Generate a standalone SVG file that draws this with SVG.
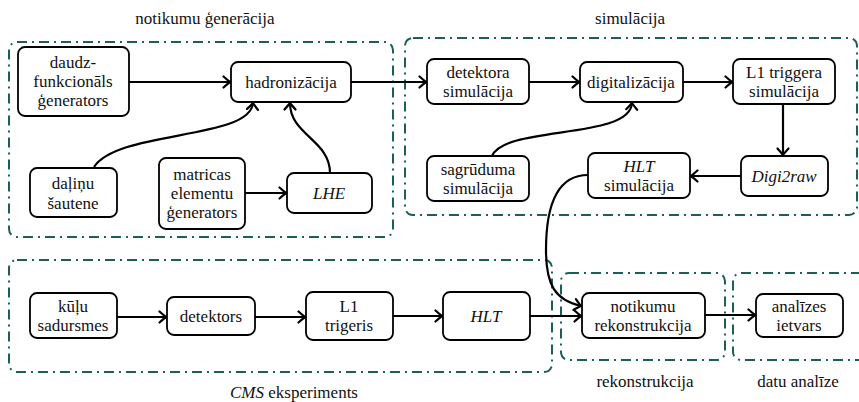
<svg xmlns="http://www.w3.org/2000/svg" width="859" height="402" viewBox="0 0 859 402" font-family="Liberation Serif, DejaVu Serif, Times New Roman, serif">
<style>
.grp{fill:none;stroke:#1d5f58;stroke-width:2;stroke-dasharray:10 5 2 5}
.nd{fill:#fff;stroke:#000;stroke-width:1.8}
.t{font-size:17px;fill:#111;text-anchor:middle}
.i{font-style:italic}
.c{fill:none;stroke:#000;stroke-width:2.2;marker-end:url(#ah)}
</style>
<defs>
<marker id="ah" markerUnits="userSpaceOnUse" markerWidth="14" markerHeight="14" viewBox="-8 -7 10 14" refX="0" refY="0" orient="auto">
<path d="M-6.5,-5.5 Q-2,-1.5 0,0 Q-2,1.5 -6.5,5.5" fill="none" stroke="#000" stroke-width="2.2" stroke-linecap="round"/>
</marker>
</defs>
<rect width="859" height="402" fill="#fff"/>
<g id="groups">
<rect class="grp" x="9" y="42" width="384" height="195" rx="8"/>
<rect class="grp" x="405" y="38" width="452" height="177" rx="8"/>
<rect class="grp" x="9" y="260" width="543" height="112" rx="8"/>
<rect class="grp" x="561" y="273" width="164" height="87" rx="8"/>
<rect class="grp" x="733" y="273" width="140" height="87" rx="8"/>
<text class="t" x="205" y="24">notikumu ģenerācija</text>
<text class="t" x="630" y="24">simulācija</text>
<text class="t" x="294" y="398"><tspan class="i">CMS</tspan> eksperiments</text>
<text class="t" x="645" y="387">rekonstrukcija</text>
<text class="t" x="798" y="387">datu analīze</text>
</g>
<g id="connectors">
<path class="c" d="M129,82 H230"/>
<path class="c" d="M351,82 H426"/>
<path class="c" d="M94,167 C118,130 250,140 253,103"/>
<path class="c" d="M330,173 C330,140 290,135 290,103"/>
<path class="c" d="M245,193 H286"/>
<path class="c" d="M529,82 H579"/>
<path class="c" d="M683,82 H732"/>
<path class="c" d="M492,156 C505,125 630,140 632,103"/>
<path class="c" d="M783,104 V155"/>
<path class="c" d="M741,176 H691"/>
<path class="c" d="M588,175 C555,175 546,210 546,250 C546,285 555,300 581,306"/>
<path class="c" d="M117,317 H166"/>
<path class="c" d="M255,317 H305"/>
<path class="c" d="M393,316 H442"/>
<path class="c" d="M530,316 H581"/>
<path class="c" d="M705,315 H755"/>
</g>
<g id="n-daudz"><rect class="nd" x="18" y="47" width="111" height="69" rx="7"/><text class="t" x="73" y="68">daudz-</text><text class="t" x="73" y="87">funkcionāls</text><text class="t" x="73" y="106">ģenerators</text></g>
<g id="n-hadron"><rect class="nd" x="231" y="62" width="120" height="40" rx="7"/><text class="t" x="291" y="88">hadronizācija</text></g>
<g id="n-dalinu"><rect class="nd" x="30" y="168" width="87" height="49" rx="7"/><text class="t" x="73" y="189">daļiņu</text><text class="t" x="73" y="209">šautene</text></g>
<g id="n-matricas"><rect class="nd" x="159" y="158" width="86" height="71" rx="7"/><text class="t" x="202" y="180">matricas</text><text class="t" x="202" y="199">elementu</text><text class="t" x="202" y="218">ģenerators</text></g>
<g id="n-lhe"><rect class="nd" x="287" y="173" width="85" height="40" rx="7"/><text class="t i" x="329" y="199">LHE</text></g>
<g id="n-detsim"><rect class="nd" x="427" y="59" width="102" height="45" rx="7"/><text class="t" x="478" y="78">detektora</text><text class="t" x="478" y="97">simulācija</text></g>
<g id="n-digital"><rect class="nd" x="580" y="62" width="103" height="40" rx="7"/><text class="t" x="631" y="88">digitalizācija</text></g>
<g id="n-l1sim"><rect class="nd" x="733" y="59" width="102" height="45" rx="7"/><text class="t" x="784" y="78">L1 triggera</text><text class="t" x="784" y="97">simulācija</text></g>
<g id="n-sagr"><rect class="nd" x="427" y="156" width="102" height="45" rx="7"/><text class="t" x="478" y="175">sagrūduma</text><text class="t" x="478" y="194">simulācija</text></g>
<g id="n-hltsim"><rect class="nd" x="588" y="153" width="102" height="45" rx="7"/><text class="t i" x="639" y="172">HLT</text><text class="t" x="639" y="191">simulācija</text></g>
<g id="n-digi2raw"><rect class="nd" x="741" y="156" width="87" height="40" rx="7"/><text class="t i" x="784" y="182">Digi2raw</text></g>
<g id="n-kulu"><rect class="nd" x="30" y="293" width="87" height="45" rx="7"/><text class="t" x="73" y="312">kūļu</text><text class="t" x="73" y="331">sadursmes</text></g>
<g id="n-detektors"><rect class="nd" x="167" y="297" width="88" height="38" rx="7"/><text class="t" x="211" y="322">detektors</text></g>
<g id="n-l1"><rect class="nd" x="306" y="292" width="87" height="48" rx="7"/><text class="t" x="349" y="312">L1</text><text class="t" x="349" y="331">trigeris</text></g>
<g id="n-hlt"><rect class="nd" x="443" y="292" width="87" height="48" rx="7"/><text class="t i" x="486" y="322">HLT</text></g>
<g id="n-rekon"><rect class="nd" x="582" y="293" width="123" height="45" rx="7"/><text class="t" x="643" y="312">notikumu</text><text class="t" x="643" y="331">rekonstrukcija</text></g>
<g id="n-anal"><rect class="nd" x="756" y="294" width="87" height="43" rx="7"/><text class="t" x="799" y="312">analīzes</text><text class="t" x="799" y="331">ietvars</text></g>
</svg>
